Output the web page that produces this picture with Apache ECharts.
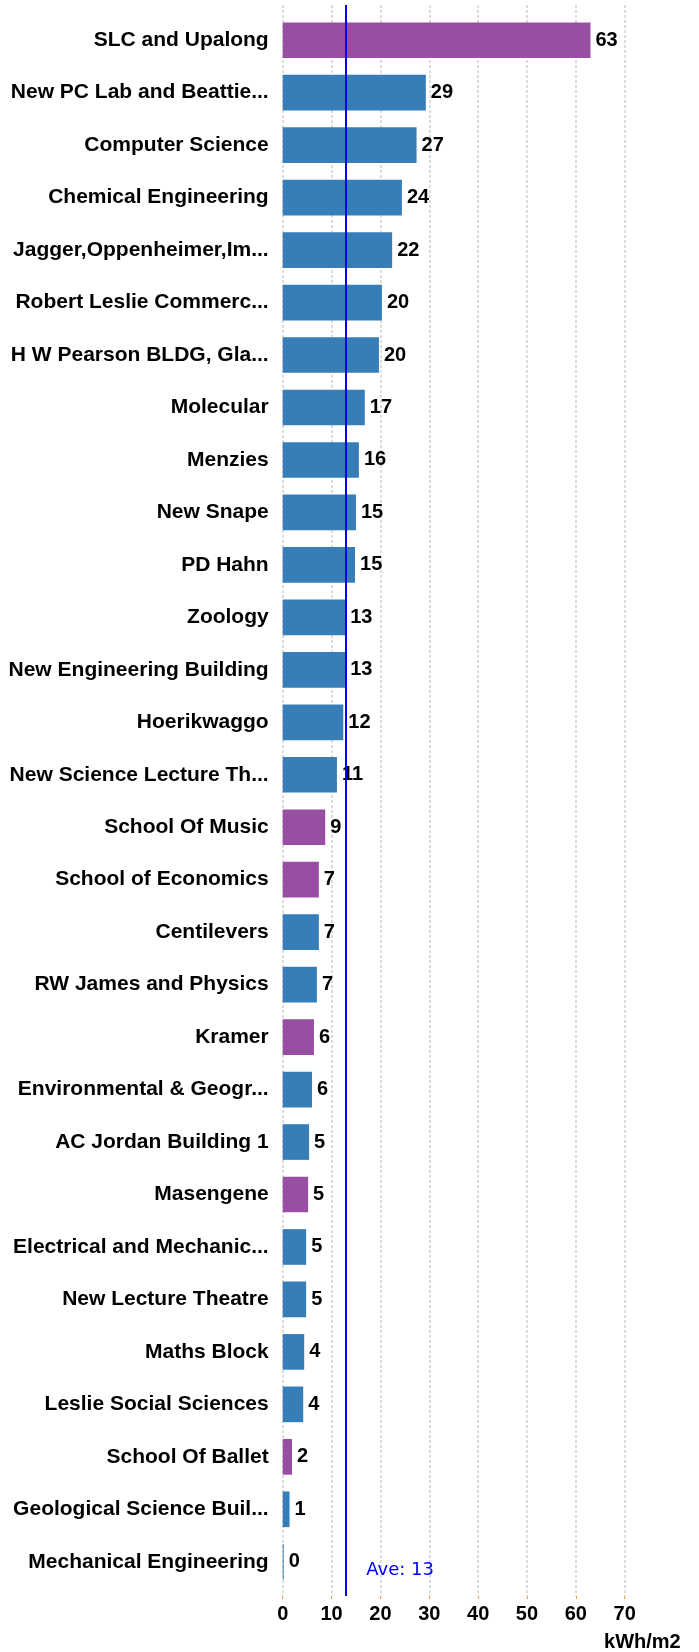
<!DOCTYPE html>
<html>
<head>
<meta charset="utf-8">
<script src="https://cdn.jsdelivr.net/npm/echarts@6/dist/echarts.min.js"></script>
<style>html,body{margin:0;padding:0;background:#fff}#c{width:699px;height:1652px}</style>
</head>
<body>
<div id="c"></div>
<script>
const categories = [
  "SLC and Upalong", "New PC Lab and Beattie...", "Computer Science", "Chemical Engineering",
  "Jagger,Oppenheimer,Im...", "Robert Leslie Commerc...", "H W Pearson BLDG, Gla...", "Molecular",
  "Menzies", "New Snape", "PD Hahn", "Zoology", "New Engineering Building", "Hoerikwaggo",
  "New Science Lecture Th...", "School Of Music", "School of Economics", "Centilevers",
  "RW James and Physics", "Kramer", "Environmental & Geogr...", "AC Jordan Building 1",
  "Masengene", "Electrical and Mechanic...", "New Lecture Theatre", "Maths Block",
  "Leslie Social Sciences", "School Of Ballet", "Geological Science Buil...", "Mechanical Engineering"
];
const values = [63.0, 29.3, 27.4, 24.4, 22.4, 20.3, 19.7, 16.8, 15.6, 15.0, 14.8, 12.8, 12.8, 12.4,
  11.1, 8.7, 7.4, 7.4, 7.0, 6.4, 6.0, 5.4, 5.2, 4.8, 4.8, 4.4, 4.2, 1.9, 1.4, 0.2];
// group: "r" = highlighted (purple), "a" = standard (blue)
const groups = ["r","a","a","a","a","a","a","a","a","a","a","a","a","a","a","r","r","a","a","r",
  "a","a","r","a","a","a","a","r","a","a"];
const average = 13;
const xTicks = [0, 10, 20, 30, 40, 50, 60, 70];
const colorMap = { r: "#984ea3", a: "#377eb8" };

const chart = echarts.init(document.getElementById('c'), null, { renderer: 'canvas' });
chart.setOption({
  animation: false,
  grid: [
    { left: 282.7, right: 74.3, top: 14, height: 1574 },
    { left: 282.7, right: 74.3, top: 5, height: 1592 }
  ],
  xAxis: [
    { gridIndex: 0, type: 'value', min: xTicks[0], max: xTicks[xTicks.length - 1], interval: 10,
      axisLine: { show: false }, axisTick: { show: false }, axisLabel: { show: false }, splitLine: { show: false } },
    { gridIndex: 1, type: 'value', min: xTicks[0], max: xTicks[xTicks.length - 1], interval: 10,
      axisLine: { show: false },
      axisTick: { show: true, length: 3, lineStyle: { color: '#f5a040', width: 1 } },
      axisLabel: { margin: 8, color: '#000', fontSize: 20, fontWeight: 'bold', fontFamily: 'Liberation Sans, Arial, sans-serif' },
      splitLine: { show: true, lineStyle: { color: '#cfcfcf', type: [3, 2], width: 1.5 } },
      name: 'kWh/m2', nameLocation: 'end', nameGap: 56,
      nameTextStyle: { color: '#000', fontSize: 20, fontWeight: 'bold', fontFamily: 'Liberation Sans, Arial, sans-serif',
        align: 'right', verticalAlign: 'top', padding: [36, 0, 0, 0] }
    }
  ],
  yAxis: [
    { gridIndex: 0, type: 'category', data: categories, inverse: true,
      axisLine: { show: false }, axisTick: { show: false },
      axisLabel: { margin: 14, color: '#000', fontSize: 21, fontWeight: 'bold', fontFamily: 'Liberation Sans, Arial, sans-serif' } },
    { gridIndex: 1, type: 'value', min: 0, max: 1, show: false }
  ],
  series: [
    {
      type: 'bar', xAxisIndex: 0, yAxisIndex: 0,
      barCategoryGap: '32%',
      data: values.map((v, i) => ({ value: v, itemStyle: { color: colorMap[groups[i]] } })),
      label: { show: true, position: 'right', distance: 5, color: '#000', fontSize: 20, fontWeight: 'bold',
        fontFamily: 'Liberation Sans, Arial, sans-serif', formatter: p => Math.round(p.value) }
    },
    {
      type: 'scatter', xAxisIndex: 1, yAxisIndex: 1, data: [], silent: true,
      markLine: {
        silent: true, symbol: 'none', animation: false,
        lineStyle: { color: '#0000ff', width: 2, type: 'solid' },
        label: { show: true, position: 'start', formatter: 'Ave: ' + average, color: '#0000ff', fontSize: 18,
          fontFamily: 'DejaVu Sans, Verdana, sans-serif', align: 'left', offset: [20, -40] },
        data: [{ xAxis: average }]
      }
    }
  ]
});
</script>
</body>
</html>
